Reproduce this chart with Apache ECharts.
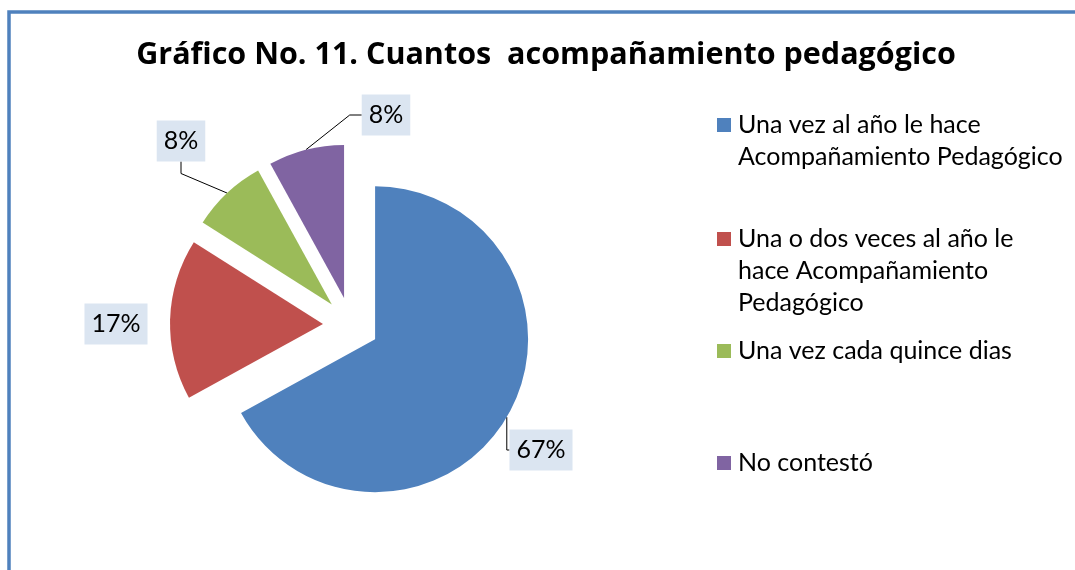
<!DOCTYPE html>
<html>
<head>
<meta charset="utf-8">
<script src="https://cdn.jsdelivr.net/npm/echarts@6/dist/echarts.min.js"></script>
<style>
  html, body { margin: 0; padding: 0; background: #fff; }
  #pie_11 { width: 1075px; height: 570px; }
</style>
</head>
<body>
<div id="pie_11"></div>
<script>
// datos del gráfico
var categories = [
  'Una vez al año le hace Acompañamiento Pedagógico',
  'Una o dos veces al año le hace Acompañamiento Pedagógico',
  'Una vez cada quince dias',
  'No contestó'
];
var legendLines = [
  ['Una vez al año le hace', 'Acompañamiento Pedagógico'],
  ['Una o dos veces al año le', 'hace Acompañamiento', 'Pedagógico'],
  ['Una vez cada quince dias'],
  ['No contestó']
];
var values = [67, 17, 8, 8];
var colors = ['#4f81bd', '#c0504d', '#9bbb59', '#8064a2'];

// layout: centro del pastel, separación de las porciones, cajas de etiquetas, leyenda
var PIE_CENTER = [351, 325];
var PIE_R = 153;
var EXPLODE = 28;
var labelCenters = [[541, 450], [116, 324], [181, 141], [386, 115]];
var legendFirstLine = [125, 239, 351, 463];
var LINE_H = 32;

var pie_11 = function () {
  var myChart = echarts.init(document.getElementById('pie_11'));

  var total = values.reduce(function (a, b) { return a + b; }, 0);
  var acc = 0;

  // una serie por porción (porción "explotada"), las otras transparentes
  var series = values.map(function (v, i) {
    var mid = (acc + v / 2) / total * 2 * Math.PI;
    acc += v;
    return {
      type: 'pie',
      z: 2,
      silent: true,
      center: [PIE_CENTER[0] + EXPLODE * Math.sin(mid), PIE_CENTER[1] - EXPLODE * Math.cos(mid)],
      radius: PIE_R,
      startAngle: 90,
      clockwise: true,
      avoidLabelOverlap: false,
      emphasis: { disabled: true },
      label: {
        show: true,
        position: 'outside',
        formatter: '{c}%',
        fontFamily: 'Lato',
        fontSize: 25,
        lineHeight: 31,
        color: '#000',
        backgroundColor: '#dbe5f1',
        padding: [5, 7]
      },
      labelLine: {
        length: 10,
        length2: 12,
        lineStyle: { color: '#000', width: 1 }
      },
      labelLayout: function (params) {
        var c = labelCenters[params.dataIndex];
        return { x: c[0], y: c[1], align: 'center', verticalAlign: 'middle' };
      },
      data: values.map(function (w, j) {
        if (j === i) {
          return {
            name: categories[j],
            value: w,
            itemStyle: { color: colors[j] },
            labelLine: { show: j !== 1 }
          };
        }
        return {
          name: categories[j],
          value: w,
          itemStyle: { color: 'rgba(0,0,0,0)' },
          label: { show: false },
          labelLine: { show: false }
        };
      })
    };
  });

  // una leyenda por elemento, el cuadrito alineado con la primera línea
  var legends = categories.map(function (name, i) {
    var n = legendLines[i].length;
    var blockH = (2 * n - 1) * LINE_H;
    return {
      orient: 'vertical',
      left: 712,
      top: legendFirstLine[i] - blockH / 2 - 5,
      icon: 'rect',
      itemWidth: 14,
      itemHeight: 14,
      selectedMode: false,
      data: [{ name: name, itemStyle: { color: colors[i] } }],
      formatter: function () {
        var pad = [];
        for (var k = 1; k < n; k++) pad.push('');
        return pad.concat(legendLines[i]).join('\n');
      },
      textStyle: {
        fontFamily: 'Lato',
        fontSize: 25,
        lineHeight: LINE_H,
        color: '#000',
        padding: [0, 0, 0, 2]
      }
    };
  });

  var option = {
    animation: false,
    title: {
      text: 'Gráfico No. 11. Cuantos  acompañamiento pedagógico',
      left: 541,
      top: 35,
      textAlign: 'center',
      textStyle: {
        fontFamily: 'Open Sans',
        fontWeight: 'bold',
        fontSize: 30.5,
        color: '#000'
      }
    },
    legend: legends,
    graphic: [{
      type: 'rect',
      shape: { x: 9, y: 12, width: 1200, height: 700 },
      style: { fill: 'none', stroke: '#4f81bd', lineWidth: 3.5 },
      silent: true
    }],
    series: series
  };
  myChart.setOption(option);
};

pie_11();
</script>
</body>
</html>
